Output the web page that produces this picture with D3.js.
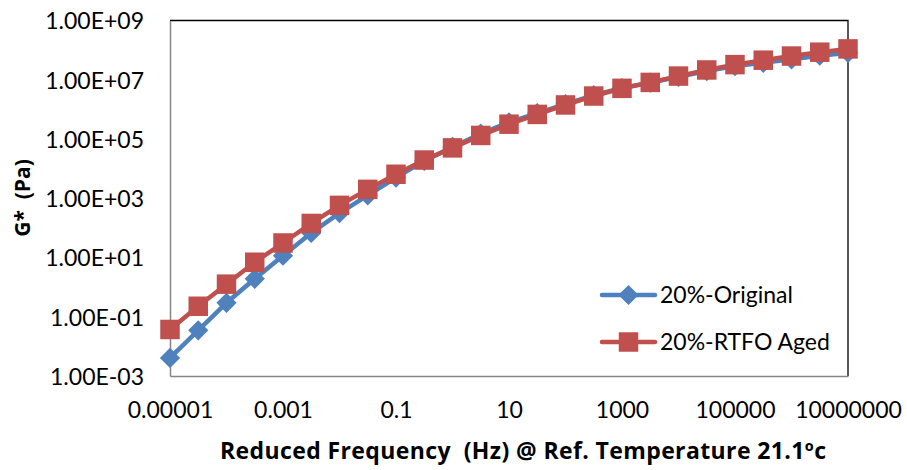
<!DOCTYPE html>
<html>
<head>
<meta charset="utf-8">
<script src="https://cdn.jsdelivr.net/npm/d3@7"></script>
<style>
  body { margin: 0; background: #fff; }
  svg { display: block; }
  text.title { white-space: pre; }
</style>
</head>
<body>
<svg id="chart" width="907" height="470"></svg>
<script>
// Reduced frequency (Hz), half-decade steps
const frequencies = [1e-5, 3.16e-5, 1e-4, 3.16e-4, 1e-3, 3.16e-3, 0.01, 0.0316, 0.1, 0.316,
  1, 3.16, 10, 31.6, 100, 316, 1000, 3162, 1e4, 31623, 1e5, 316228, 1e6, 3162278, 1e7];

// |G*| master curves (Pa)
const originalGstar = [0.00407, 0.0347, 0.295, 1.91, 11.5, 67.6, 316, 1259, 5012, 18197,
  53703, 151356, 363078, 749894, 1.51e6, 3.02e6, 5.25e6, 7.94e6, 1.26e7, 1.95e7,
  2.88e7, 3.72e7, 4.90e7, 6.46e7, 8.13e7];
const agedGstar = [0.0372, 0.226, 1.26, 6.92, 30.9, 141, 575, 1995, 6457, 19498,
  50119, 131826, 316228, 676083, 1.41e6, 2.82e6, 5.13e6, 8.13e6, 1.33e7, 2.14e7,
  3.24e7, 4.57e7, 6.31e7, 8.51e7, 1.10e8];

const seriesNames = ["20%-Original", "20%-RTFO Aged"];
const seriesColors = ["#4F81BD", "#C0504D"];

const xTickValues = [1e-5, 1e-3, 1e-1, 1e1, 1e3, 1e5, 1e7];
const xTickLabels = ["0.00001", "0.001", "0.1", "10", "1000", "100000", "10000000"];
const yTickValues = [1e-3, 1e-1, 1e1, 1e3, 1e5, 1e7, 1e9];
const yTickLabels = ["1.00E-03", "1.00E-01", "1.00E+01", "1.00E+03", "1.00E+05", "1.00E+07", "1.00E+09"];

const xTitle = "Reduced Frequency  (Hz) @ Ref. Temperature 21.1\u00BAc";
const yTitle = "G*  (Pa)";

const W = 907, H = 470;
const margin = { left: 170, right: 59, top: 20.5, bottom: 94 };
const FONT = "Lato, 'Open Sans', sans-serif";
const TITLE_FONT = "'Open Sans', Lato, sans-serif";

const svg = d3.select("#chart");

const x = d3.scaleLog().domain([1e-5, 1e7]).range([margin.left, W - margin.right]);
const y = d3.scaleLog().domain([1e-3, 1e9]).range([H - margin.bottom, margin.top]);

// plot-area frame (top and right edges)
svg.append("path")
  .attr("d", `M${x.range()[0]},${y.range()[1]}H${x.range()[1]}V${y.range()[0]}`)
  .attr("fill", "none").attr("stroke", "#000").attr("stroke-width", 1.3);

// y axis
const yAxis = svg.append("g")
  .attr("transform", `translate(${margin.left},0)`)
  .call(d3.axisLeft(y).tickValues(yTickValues)
    .tickFormat((d, i) => yTickLabels[i]).tickSize(0).tickPadding(26));
yAxis.select(".domain").attr("stroke", "#868686").attr("stroke-width", 1.5);
yAxis.selectAll("text").attr("font-family", FONT).attr("font-size", 23)
  .attr("fill", "#000").attr("dy", "0.36em");

// x axis
const xAxis = svg.append("g")
  .attr("transform", `translate(0,${H - margin.bottom})`)
  .call(d3.axisBottom(x).tickValues(xTickValues)
    .tickFormat((d, i) => xTickLabels[i]).tickSize(0));
xAxis.select(".domain").attr("stroke", "#868686").attr("stroke-width", 1.5);
xAxis.selectAll("text").attr("font-family", FONT).attr("font-size", 23)
  .attr("fill", "#000").attr("y", 42).attr("dy", null);

// axis titles
svg.append("text").attr("class", "title")
  .attr("x", 523).attr("y", 459)
  .attr("text-anchor", "middle")
  .attr("textLength", 606).attr("lengthAdjust", "spacing")
  .attr("font-family", TITLE_FONT).attr("font-weight", 700).attr("font-size", 23)
  .text(xTitle);

svg.append("text").attr("class", "title")
  .attr("transform", "translate(30,198) rotate(-90)")
  .attr("text-anchor", "middle")
  .attr("font-family", TITLE_FONT).attr("font-weight", 700).attr("font-size", 21)
  .text(yTitle);

// series
const series = [
  { name: seriesNames[0], values: originalGstar, color: seriesColors[0], marker: "diamond" },
  { name: seriesNames[1], values: agedGstar, color: seriesColors[1], marker: "square" }
];

const line = d3.line().x(d => x(d.f)).y(d => y(d.g));
const squareSym = d3.symbol(d3.symbolSquare, 380)();
const diamondSym = d3.symbol(d3.symbolSquare, 205)();

function markerPath(sel, s) {
  sel.attr("d", s.marker === "square" ? squareSym : diamondSym)
    .attr("fill", s.color);
}

series.forEach(s => {
  const pts = frequencies.map((f, i) => ({ f, g: s.values[i] }));
  const g = svg.append("g");
  g.append("path").datum(pts)
    .attr("d", line)
    .attr("fill", "none").attr("stroke", s.color)
    .attr("stroke-width", 4.5).attr("stroke-linejoin", "round");
  g.selectAll("path.m").data(pts).join("path").attr("class", "m")
    .attr("transform", d => `translate(${x(d.f)},${y(d.g)})` + (s.marker === "diamond" ? " rotate(45)" : ""))
    .call(markerPath, s);
});

// legend
const legend = svg.append("g");
series.forEach((s, i) => {
  const cy = 295 + i * 47;
  const row = legend.append("g");
  row.append("line")
    .attr("x1", 602).attr("x2", 655).attr("y1", cy).attr("y2", cy)
    .attr("stroke", s.color).attr("stroke-width", 4.5).attr("stroke-linecap", "round");
  row.append("path")
    .attr("transform", `translate(628.5,${cy})` + (s.marker === "diamond" ? " rotate(45)" : ""))
    .call(markerPath, s);
  row.append("text")
    .attr("x", 660).attr("y", cy).attr("dy", "0.36em")
    .attr("font-family", FONT).attr("font-size", 23)
    .text(s.name);
});
</script>
</body>
</html>
